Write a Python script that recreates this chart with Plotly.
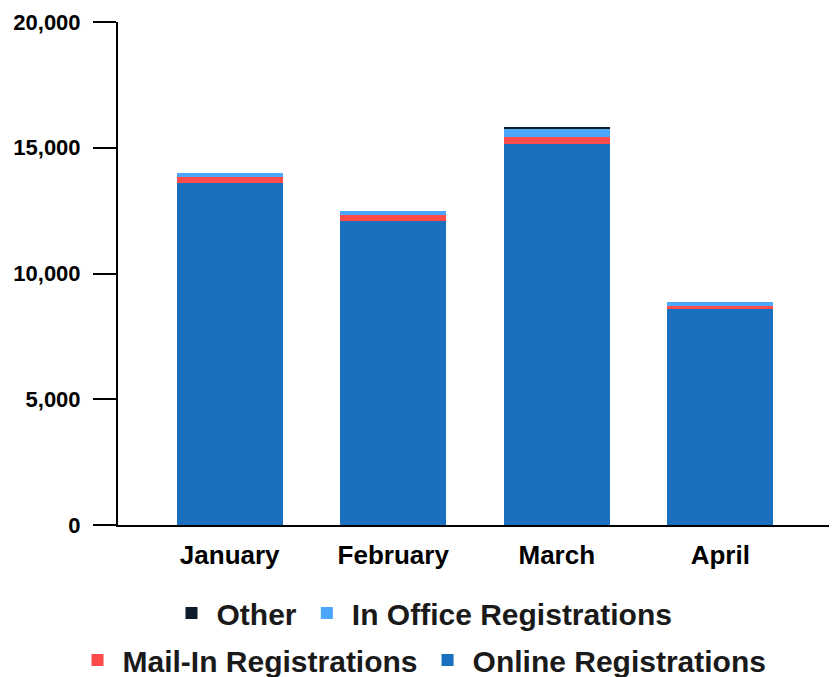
import plotly.graph_objects as go

months = ["January", "February", "March", "April"]
online = [13600, 12100, 15150, 8580]
mail_in = [235, 235, 280, 120]
in_office = [160, 150, 320, 155]
other = [0, 0, 70, 0]

colors = {
    "Online Registrations": "#1a70bf",
    "Mail-In Registrations": "#ff4b4a",
    "In Office Registrations": "#4ba6fc",
    "Other": "#0c1c2b",
}

font_family = "Arial, Liberation Sans, sans-serif"

fig = go.Figure()
series = [
    ("Online Registrations", online, "legend2"),
    ("Mail-In Registrations", mail_in, "legend2"),
    ("In Office Registrations", in_office, "legend"),
    ("Other", other, "legend"),
]
for name, vals, lg in series:
    fig.add_trace(go.Bar(
        x=months, y=vals, name=name, marker_color=colors[name],
        marker_line_width=0, width=0.646, legend=lg,
    ))

legend_font = dict(size=30, family=font_family, weight="bold", color="#1a1a1a")
fig.update_layout(
    barmode="stack",
    width=829, height=669,
    margin=dict(l=110, r=6, t=14, b=152),
    plot_bgcolor="white", paper_bgcolor="white",
    font=dict(family=font_family, color="#000000"),
    showlegend=True,
    legend=dict(
        orientation="h", xref="container", yref="container",
        x=0.4994, xanchor="center", y=0.0957, yanchor="middle",
        traceorder="reversed", font=legend_font,
        itemwidth=40, bgcolor="rgba(0,0,0,0)",
    ),
    legend2=dict(
        orientation="h", xref="container", yref="container",
        x=0.4994, xanchor="center", y=0.0254, yanchor="middle",
        traceorder="reversed", font=legend_font,
        itemwidth=40, bgcolor="rgba(0,0,0,0)",
    ),
)
fig.update_xaxes(
    type="category", range=[-0.683, 3.677], automargin=False,
    showline=True, linecolor="black", linewidth=2,
    ticks="", showgrid=False, ticklabelstandoff=6,
    tickfont=dict(size=26, family=font_family, weight="bold", color="black"),
)
fig.update_yaxes(
    range=[0, 20000], tickvals=[0, 5000, 10000, 15000, 20000],
    tickformat=",d", automargin=False, ticklabeloverflow="allow",
    showline=True, linecolor="black", linewidth=2,
    ticks="outside", ticklen=23, tickwidth=2, tickcolor="black",
    ticklabelstandoff=8,
    showgrid=False, zeroline=False,
    tickfont=dict(size=22, family=font_family, weight="bold", color="black"),
)

fig.write_html("out.html")
